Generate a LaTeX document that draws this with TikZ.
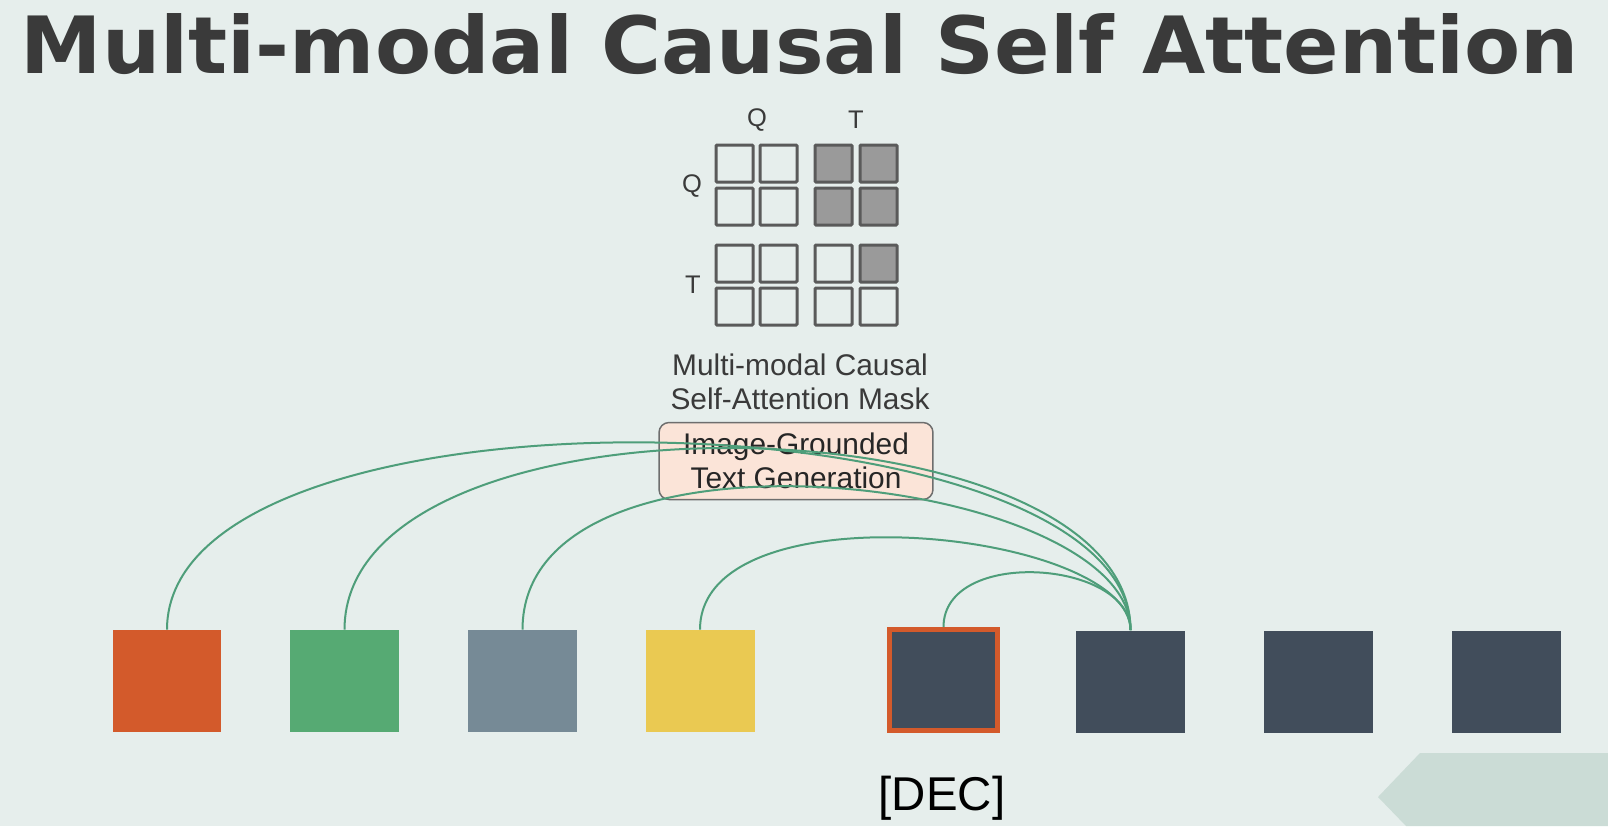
\documentclass[tikz,border=0pt]{standalone}
\usepackage{fontspec}
\usepackage{graphicx}
\setmainfont{Liberation Sans}
\newfontfamily\titlefont{DejaVu Sans}

\definecolor{bgcol}{HTML}{E6EEEC}
\definecolor{arrowbg}{HTML}{CBDCD6}
\definecolor{titlecol}{HTML}{3A3A3A}
\definecolor{tokorange}{HTML}{D35A2B}
\definecolor{tokgreen}{HTML}{56AA73}
\definecolor{tokslate}{HTML}{768A96}
\definecolor{tokyellow}{HTML}{EAC952}
\definecolor{tokdark}{HTML}{414D5B}
\definecolor{linkcol}{HTML}{4E9E7A}
\definecolor{maskfill}{HTML}{9A9A9A}
\definecolor{maskline}{HTML}{5A5A5A}
\definecolor{boxfill}{HTML}{FBE4D8}
\definecolor{boxline}{HTML}{6E6E6E}

\tikzset{
    token/.style={minimum width=2.18cm, minimum height=2.04cm, inner sep=0pt, draw=none},
    link/.style={draw=linkcol, line width=0.04cm},
    maskcell/.style={draw=maskline, line width=0.06cm, rounded corners=0.02cm},
    masklabel/.style={text=titlecol, font=\fontsize{14.5}{16}\selectfont, inner sep=0pt},
}

\begin{document}
\begin{tikzpicture}[x=0.02cm, y=-0.02cm]
        \fill[bgcol](0,0) rectangle (1608,826);
        \useasboundingbox (0,0) rectangle (1608,826);

        \fill[arrowbg](1608,753) -- (1420,753) -- (1378,797) -- (1406,826) -- (1608,826) -- cycle;

        \node[anchor=base, inner sep=0pt, text=titlecol] (title) at (800,73)
            {\resizebox{31.16cm}{1.2cm}{\titlefont\bfseries Multi-modal Causal Self Attention}};

        \node[masklabel] (colQ) at (757,120) {Q};
        \node[masklabel] (colT) at (856,120) {T};
        \node[masklabel] (rowQ) at (692,186) {Q};
        \node[masklabel] (rowT) at (693,285) {T};

        \draw[maskcell](716,145) rectangle++(37,37);
        \draw[maskcell](760,145) rectangle++(37,37);
        \draw[maskcell, fill=maskfill](815,145) rectangle++(37,37);
        \draw[maskcell, fill=maskfill](860,145) rectangle++(37,37);
        \draw[maskcell](716,188) rectangle++(37,37);
        \draw[maskcell](760,188) rectangle++(37,37);
        \draw[maskcell, fill=maskfill](815,188) rectangle++(37,37);
        \draw[maskcell, fill=maskfill](860,188) rectangle++(37,37);
        \draw[maskcell](716,245) rectangle++(37,37);
        \draw[maskcell](760,245) rectangle++(37,37);
        \draw[maskcell](815,245) rectangle++(37,37);
        \draw[maskcell, fill=maskfill](860,245) rectangle++(37,37);
        \draw[maskcell](716,288) rectangle++(37,37);
        \draw[maskcell](760,288) rectangle++(37,37);
        \draw[maskcell](815,288) rectangle++(37,37);
        \draw[maskcell](860,288) rectangle++(37,37);

        \node[align=center, text=titlecol, font=\fontsize{17}{19}\selectfont] (maskcap) at (800,382)
            {Multi-modal Causal\\Self-Attention Mask};

        \node[draw=boxline, fill=boxfill, line width=0.03cm, rounded corners=0.2cm,
              minimum width=5.48cm, minimum height=1.54cm, align=center,
              text=black!85, font=\fontsize{17}{19}\selectfont] (itg) at (796,461)
            {Image-Grounded\\Text Generation};

        \node[token, fill=tokorange] (imgA) at (167,681) {};
        \node[token, fill=tokgreen] (imgB) at (344.5,681) {};
        \node[token, fill=tokslate] (imgC) at (522.5,681) {};
        \node[token, fill=tokyellow] (imgD) at (700,681) {};
        \node[token, fill=tokdark, draw=tokorange, line width=0.1cm,
              minimum width=2.16cm, minimum height=2.02cm] (decTok) at (943.5,680) {};
        \node[token, fill=tokdark] (txtA) at (1130.5,681.5) {};
        \node[token, fill=tokdark] (txtB) at (1318,681.5) {};
        \node[token, fill=tokdark] (txtC) at (1506,681.5) {};

        \node[font=\fontsize{27}{29}\selectfont, inner sep=0pt] (declabel) at (942,798) {[DEC]};

        \draw[link] (imgA.north) .. controls +(0,-260) and +(0,-240) .. (txtA.north);
        \draw[link] (imgB.north) .. controls +(0,-250) and +(0,-235) .. (txtA.north);
        \draw[link] (imgC.north) .. controls +(0,-225) and +(0,-155) .. (txtA.north);
        \draw[link] (imgD.north) .. controls +(0,-145) and +(0,-100) .. (txtA.north);
        \draw[link] (decTok.north) .. controls +(0,-80) and +(0,-70) .. (txtA.north);
    \end{tikzpicture}
\end{document}
